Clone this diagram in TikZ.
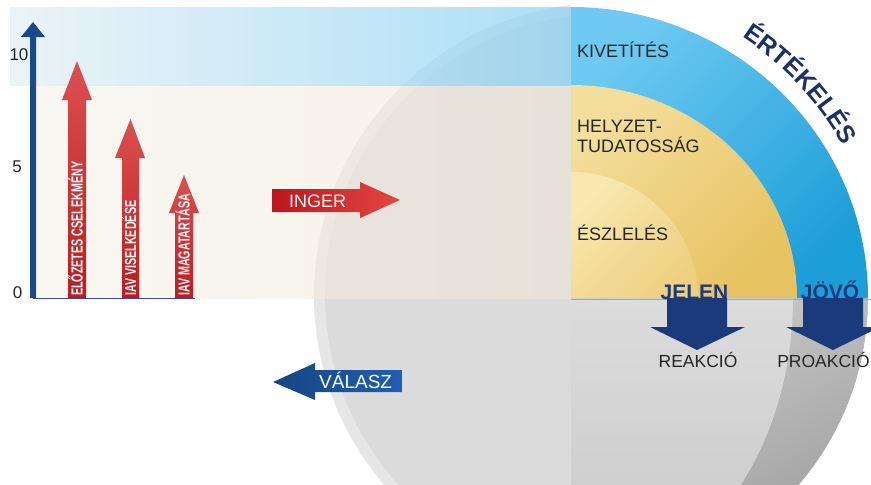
\documentclass[tikz,border=0pt]{standalone}
\usepackage{fontspec}
\setmainfont{Liberation Sans}
\usetikzlibrary{decorations.text,calc}
\definecolor{diskrim}{RGB}{230,230,230}
\definecolor{diskin}{RGB}{219,219,219}
\definecolor{beigeL}{RGB}{244,240,231}
\definecolor{beigeR}{RGB}{242,233,215}
\definecolor{blueL}{RGB}{228,239,245}
\definecolor{blueM}{RGB}{152,209,236}
\definecolor{blueR}{RGB}{135,210,245}
\definecolor{ringBT}{RGB}{110,202,242}
\definecolor{ringBB}{RGB}{28,158,216}
\definecolor{ringYT}{RGB}{244,222,156}
\definecolor{ringYB}{RGB}{231,194,96}
\definecolor{ringIT}{RGB}{248,232,176}
\definecolor{ringIB}{RGB}{238,208,128}
\definecolor{grayRT}{RGB}{205,205,205}
\definecolor{grayRB}{RGB}{155,155,155}
\definecolor{grayIT}{RGB}{220,220,220}
\definecolor{grayIB}{RGB}{200,200,200}
\definecolor{axisnavy}{RGB}{26,74,138}
\definecolor{basenavy}{RGB}{59,77,160}
\definecolor{ertnavy}{RGB}{29,47,107}
\definecolor{downnavy}{RGB}{27,58,124}
\definecolor{redT}{RGB}{220,80,80}
\definecolor{redB}{RGB}{186,28,34}
\definecolor{ingerL}{RGB}{188,22,30}
\definecolor{ingerR}{RGB}{226,72,66}
\definecolor{valL}{RGB}{22,70,128}
\definecolor{valR}{RGB}{32,94,180}
\definecolor{txtdark}{RGB}{38,38,38}
\tikzset{
  lbl/.style={font=\fontsize{18}{18}\selectfont, text=txtdark, inner sep=0pt},
  lbllow/.style={font=\fontsize{17.5}{17.5}\selectfont, text=txtdark, inner sep=0pt},
  timelbl/.style={font=\fontsize{21}{21}\selectfont\bfseries, text=downnavy, inner sep=0pt},
  numlbl/.style={font=\fontsize{17}{17}\selectfont, text=txtdark, inner sep=0pt, anchor=base},
  barlbl/.style={font=\fontsize{16}{16}\selectfont\bfseries, text=white, inner sep=0pt, rotate=90, anchor=base west},
  arrlbl/.style={font=\fontsize{18}{18}\selectfont, text=white, inner sep=0pt, anchor=base west},
  redbar/.style={top color=redT, bottom color=redB},
  downarr/.style={fill=downnavy}
}
\begin{document}
\begin{tikzpicture}[x=1pt,y=-1pt]
\useasboundingbox (0,0) rectangle (871,485);
\clip (0,0) rectangle (871,485);
\fill[white] (0,0) rectangle (871,485);
\coordinate (C) at (571,298);

% big gray disk (left half)
\begin{scope}
  \clip (0,0) rectangle (571,485);
  \fill[diskrim] (606,295) circle[radius=292];
  \fill[diskin] (606,295) circle[radius=281];
\end{scope}

% bands
\shade[fill opacity=0.55, left color=beigeL, right color=beigeR] (37,85) rectangle (571,298);
\shade[fill opacity=0.7, left color=blueL, middle color=blueM, right color=blueR] (10,7) rectangle (571,85);

% lower right quadrant
\shade[top color=grayRT, bottom color=grayRB, shading angle=30] (C) -- (868,298) arc[start angle=0, end angle=90, x radius=297, y radius=291] -- cycle;
\shade[top color=grayIT, bottom color=grayIB] (C) -- (793,298) arc[start angle=0, end angle=90, x radius=222, y radius=290] -- cycle;

% upper right quadrant rings
\shade[top color=ringBT, bottom color=ringBB, shading angle=45] (C) -- (571,7) arc[start angle=-90, end angle=0, x radius=297, y radius=291] -- cycle;
\shade[top color=ringYT, bottom color=ringYB, shading angle=45] (C) -- (571,85) arc[start angle=-90, end angle=0, x radius=226, y radius=213] -- cycle;
\shade[top color=ringIT, bottom color=ringIB, shading angle=45] (C) -- (571,172) arc[start angle=-90, end angle=0, x radius=127, y radius=126] -- cycle;
\draw[line width=1.5pt, black!35] (571,299.5) -- (871,299.5);

% ERTEKELES along arc
\path[decorate, decoration={text along path, text align=center,
  text={|\fontsize{25}{25}\selectfont\bfseries\color{ertnavy}|ÉRTÉKELÉS}}]
  ($(C)+(-63:312)$) arc[start angle=-63, end angle=-23, radius=312];

% y axis
\draw[basenavy, line width=1pt] (33,298) -- (195,298);
\fill[axisnavy] (30,298) -- (30,37) -- (21,37) -- (33,22) -- (45,37) -- (36,37) -- (36,298) -- cycle;
\node[numlbl] (n10) at (19,60) {10};
\node[numlbl] (n5) at (17,172) {5};
\node[numlbl] (n0) at (17.5,298) {0};

% red bars
\shade[redbar] (68,298) -- (68,100) -- (62,100) -- (77,61) -- (92,100) -- (86,100) -- (86,298) -- cycle;
\shade[redbar] (122,298) -- (122,158) -- (115,158) -- (130.5,119) -- (145,158) -- (139,158) -- (139,298) -- cycle;
\shade[redbar] (175,298) -- (175,213) -- (169,213) -- (184,175) -- (199,213) -- (193,213) -- (193,298) -- cycle;
\node[barlbl] (b1) at (82.5,296) {\scalebox{0.67}[1]{ELŐZETES CSELEKMÉNY}};
\node[barlbl] (b2) at (136,296) {\scalebox{0.67}[1]{IAV VISELKEDÉSE}};
\node[barlbl] (b3) at (189.5,296) {\scalebox{0.67}[1]{IAV MAGATARTÁSA}};

% INGER arrow
\shade[left color=ingerL, right color=ingerR] (272,189) -- (360,189) -- (360,182) -- (400,200) -- (360,218) -- (360,212) -- (272,212) -- cycle;
\node[arrlbl] (inger) at (289,207) {INGER};

% VALASZ arrow
\shade[left color=valL, right color=valR] (402,370) -- (315,370) -- (315,363) -- (273,382) -- (315,400) -- (315,392) -- (402,392) -- cycle;
\node[arrlbl, font=\fontsize{19}{19}\selectfont] (valasz) at (319,388) {VÁLASZ};

% right labels
\node[lbl, anchor=base west] (kiv) at (577,57) {KIVETÍTÉS};
\node[lbl, anchor=base west] (hel) at (577,132) {HELYZET-};
\node[lbl, anchor=base west] (tud) at (577,152) {TUDATOSSÁG};
\node[lbl, anchor=base west] (esz) at (577,240) {ÉSZLELÉS};

% down arrows
\fill[downarr] (667,298) -- (727,298) -- (727,327) -- (745,327) -- (697,350) -- (650,327) -- (667,327) -- cycle;
\fill[downarr] (803,298) -- (863,298) -- (863,327) -- (880,327) -- (833,350) -- (786,327) -- (803,327) -- cycle;
\node[timelbl, anchor=base] (jelen) at (694.5,299) {JELEN};
\node[timelbl, anchor=base] (jovo) at (830,299) {JÖVŐ};
\node[lbllow, anchor=base] (reak) at (698,367) {REAKCIÓ};
\node[lbllow, anchor=base] (proak) at (823.5,367) {PROAKCIÓ};
\end{tikzpicture}
\end{document}
